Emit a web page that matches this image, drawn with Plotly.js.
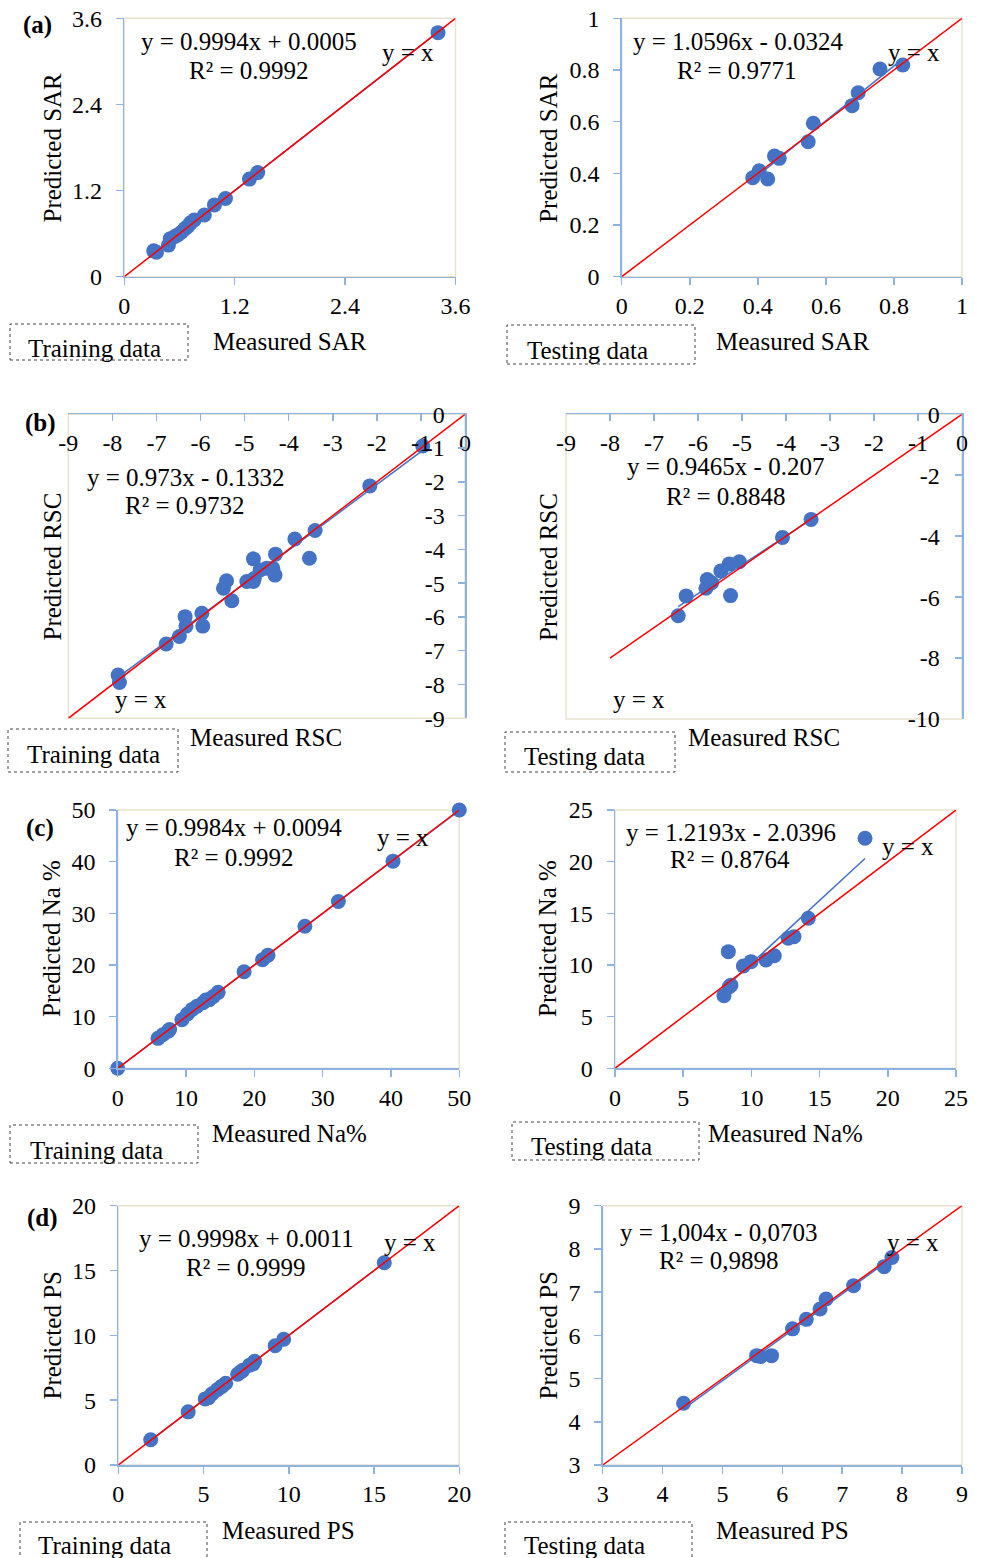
<!DOCTYPE html>
<html>
<head>
<meta charset="utf-8">
<script src="https://cdn.plot.ly/plotly-3.0.1.min.js"></script>
<style>html,body{margin:0;padding:0;background:#fff;}#chart{width:984px;height:1558px;}</style>
</head>
<body>
<div id="chart"></div>
<script>
// ---------------- DATA ----------------
const panelNames = ["(a)", "(b)", "(c)", "(d)"];
const setLabels = ["Training data", "Testing data"];
const measuredTitles = ["Measured SAR", "Measured RSC", "Measured Na%", "Measured PS"];
const predictedTitles = ["Predicted SAR", "Predicted RSC", "Predicted Na %", "Predicted PS"];

const sarTrainMeasured = [0.32, 0.35, 0.48, 0.50, 0.55, 0.58, 0.62, 0.66, 0.69, 0.72, 0.76, 0.87, 0.98, 1.10, 1.36, 1.45, 3.41];
const sarTrainPredicted = [0.36, 0.34, 0.44, 0.53, 0.56, 0.58, 0.62, 0.67, 0.70, 0.75, 0.79, 0.86, 1.00, 1.09, 1.36, 1.45, 3.40];
const sarTestMeasured = [0.385, 0.404, 0.429, 0.449, 0.463, 0.548, 0.563, 0.677, 0.695, 0.759, 0.826];
const sarTestPredicted = [0.383, 0.410, 0.378, 0.467, 0.458, 0.522, 0.594, 0.662, 0.712, 0.804, 0.819];

const rscTrainMeasured = [-7.87, -7.84, -6.78, -6.48, -6.35, -6.33, -5.97, -5.95, -5.48, -5.41, -5.29, -4.95, -4.80, -4.80, -4.78, -4.65, -4.50, -4.36, -4.31, -4.30, -3.86, -3.53, -3.40, -2.16, -0.96];
const rscTrainPredicted = [-7.72, -7.94, -6.80, -6.58, -5.99, -6.27, -5.89, -6.27, -5.15, -4.93, -5.52, -4.95, -4.95, -4.28, -4.86, -4.61, -4.56, -4.56, -4.76, -4.14, -3.69, -4.26, -3.44, -2.12, -0.94];
const rscTestMeasured = [-6.45, -6.27, -5.82, -5.79, -5.69, -5.48, -5.29, -5.26, -5.06, -4.08, -3.43];
const rscTestPredicted = [-6.61, -5.96, -5.71, -5.42, -5.53, -5.14, -4.91, -5.95, -4.84, -4.04, -3.45];

const naTrainMeasured = [0, 5.9, 6.6, 7.4, 7.6, 9.4, 10.2, 10.9, 11.6, 12.5, 12.9, 13.4, 14.0, 14.7, 18.5, 21.2, 22.0, 27.4, 32.3, 40.3, 50.0];
const naTrainPredicted = [0, 5.8, 6.5, 7.2, 7.5, 9.4, 10.5, 11.4, 12.0, 12.7, 13.2, 13.3, 13.9, 14.7, 18.7, 21.0, 21.9, 27.5, 32.3, 40.1, 50.0];
const naTestMeasured = [7.99, 8.31, 8.38, 8.50, 9.41, 9.97, 11.07, 11.68, 12.70, 13.12, 14.17, 18.33];
const naTestPredicted = [7.03, 11.29, 7.90, 8.05, 9.90, 10.32, 10.48, 10.90, 12.58, 12.74, 14.52, 22.27];

const psTrainMeasured = [1.9, 4.1, 5.1, 5.3, 5.5, 5.8, 6.0, 6.1, 6.3, 7.0, 7.2, 7.3, 7.7, 7.9, 8.0, 9.2, 9.7, 15.6];
const psTrainPredicted = [1.95, 4.1, 5.1, 5.2, 5.5, 5.8, 6.0, 6.1, 6.3, 7.0, 7.2, 7.3, 7.7, 7.8, 8.0, 9.2, 9.7, 15.6];
const psTestMeasured = [4.35, 5.57, 5.64, 5.82, 6.17, 6.40, 6.63, 6.73, 7.19, 7.70, 7.83];
const psTestPredicted = [4.43, 5.53, 5.51, 5.53, 6.15, 6.37, 6.61, 6.84, 7.15, 7.59, 7.80];

const trendSlope = [0.9994, 1.0596, 0.973, 0.9465, 0.9984, 1.2193, 0.9998, 1.004];
const trendIntercept = [0.0005, -0.0324, -0.1332, -0.207, 0.0094, -2.0396, 0.0011, -0.0703];
const equationLabels = ["y = 0.9994x + 0.0005", "y = 1.0596x - 0.0324", "y = 0.973x - 0.1332", "y = 0.9465x - 0.207",
                        "y = 0.9984x + 0.0094", "y = 1.2193x - 2.0396", "y = 0.9998x + 0.0011", "y = 1,004x - 0,0703"];
const r2Labels = ["R² = 0.9992", "R² = 0.9771", "R² = 0.9732", "R² = 0.8848",
                  "R² = 0.9992", "R² = 0.8764", "R² = 0.9999", "R² = 0,9898"];
const identityLabel = "y = x";

// identity (1:1) line extents per panel
const identityFrom = [0, 0, -9, -8, 0, 0, 0, 3];
const identityTo = [3.6, 1, 0, 0, 50, 25, 20, 9];

// tick values / labels
const sarTrainTicks = [0, 1.2, 2.4, 3.6];
const sarTestTicks = [0, 0.2, 0.4, 0.6, 0.8, 1];
const rscXTicks = [-9, -8, -7, -6, -5, -4, -3, -2, -1, 0];
const rscTrainYTicks = [-9, -8, -7, -6, -5, -4, -3, -2, -1, 0];
const rscTestYTicks = [-10, -8, -6, -4, -2, 0];
const naTrainTicks = [0, 10, 20, 30, 40, 50];
const naTestTicks = [0, 5, 10, 15, 20, 25];
const psTrainTicks = [0, 5, 10, 15, 20];
const psTestTicks = [3, 4, 5, 6, 7, 8, 9];

// ---------------- STYLE / LAYOUT ----------------
const W = 984, H = 1558;
const FONT = '"Liberation Serif", "Times New Roman", serif';
const FS = 24;     // tick labels
const FA = 25;     // annotation texts
const BLUE = '#4472C4';
const AXIS = '#8db3e2';
const FRAME = '#e8e2cf';
const px = x => x / W;
const py = y => 1 - y / H;

const panels = [
  {xs: sarTrainMeasured, ys: sarTrainPredicted, xt: sarTrainTicks, yt: sarTrainTicks, box: [124.3, 455.5, 18.3, 276.7], flip: false,
   eq: [249, 41.7], r2: [249, 70], idl: [407.5, 53], mt: [290, 342], pt: [52, 147.5], tag: [37, 25], dbox: [10, 188, 324, 360], dtxt: [94.5, 348], set: 0, grp: 0},
  {xs: sarTestMeasured, ys: sarTestPredicted, xt: sarTestTicks, yt: sarTestTicks, box: [621.7, 962, 18.3, 276.7], flip: false,
   eq: [737.5, 41.7], r2: [737, 70], idl: [914, 53], mt: [792.5, 342], pt: [548.3, 147.5], tag: null, dbox: [507, 695, 325, 364], dtxt: [587.5, 350], set: 1, grp: 0},
  {xs: rscTrainMeasured, ys: rscTrainPredicted, xt: rscXTicks, yt: rscTrainYTicks, box: [68.3, 465, 414.3, 718.3], flip: true, ystand: 15,
   eq: [185, 477], r2: [185, 505], idl: [141, 699], mt: [266, 738], pt: [52, 566.5], tag: [40.5, 423], dbox: [8, 178, 729, 772], dtxt: [93, 754], set: 0, grp: 1},
  {xs: rscTestMeasured, ys: rscTestPredicted, xt: rscXTicks, yt: rscTestYTicks, box: [566, 962, 414.3, 719], flip: true, ystand: 17,
   eq: [725.5, 467], r2: [726, 496], idl: [638.7, 699], mt: [763.7, 738], pt: [548, 567], tag: null, dbox: [505, 675, 732, 772], dtxt: [584, 757], set: 1, grp: 1},
  {xs: naTrainMeasured, ys: naTrainPredicted, xt: naTrainTicks, yt: naTrainTicks, box: [117.7, 459.3, 810, 1068.3], flip: false,
   eq: [234, 828], r2: [234, 857], idl: [403, 837], mt: [289, 1133], pt: [52, 939], tag: [40, 828], dbox: [10, 198, 1125, 1163], dtxt: [96, 1150], set: 0, grp: 2},
  {xs: naTestMeasured, ys: naTestPredicted, xt: naTestTicks, yt: naTestTicks, box: [615, 956, 810, 1068.3], flip: false,
   eq: [730.5, 832], r2: [730, 860], idl: [908, 847], mt: [785, 1133], pt: [548, 939], tag: null, dbox: [512, 699, 1122, 1160], dtxt: [591, 1146], set: 1, grp: 2},
  {xs: psTrainMeasured, ys: psTrainPredicted, xt: psTrainTicks, yt: psTrainTicks, box: [118.3, 459.3, 1205.7, 1465], flip: false,
   eq: [246, 1238], r2: [246, 1267], idl: [410, 1242], mt: [288, 1530], pt: [52, 1335.5], tag: [42.5, 1218], dbox: [20, 207, 1522, 1562], dtxt: [104.5, 1545], set: 0, grp: 3},
  {xs: psTestMeasured, ys: psTestPredicted, xt: psTestTicks, yt: psTestTicks, box: [602.7, 962, 1205.7, 1465], flip: false,
   eq: [718, 1232], r2: [719, 1260], idl: [913, 1242], mt: [782, 1530], pt: [548, 1335.5], tag: null, dbox: [505, 692, 1522, 1562], dtxt: [584, 1545], set: 1, grp: 3}
];

const traces = [];
const layout = {
  width: W, height: H, margin: {l: 0, r: 0, t: 0, b: 0},
  paper_bgcolor: '#ffffff', plot_bgcolor: '#ffffff',
  showlegend: false, font: {family: FONT, size: FS, color: '#000'},
  shapes: [], annotations: []
};

const ann = (text, x, y, extra) => Object.assign({
  text: text, x: px(x), y: py(y), xref: 'paper', yref: 'paper', showarrow: false,
  xanchor: 'center', yanchor: 'middle', font: {family: FONT, size: FA, color: '#000'}
}, extra || {});

panels.forEach((p, i) => {
  const n = i === 0 ? '' : String(i + 1);
  const xa = 'x' + n, ya = 'y' + n;
  const xr = [p.xt[0], p.xt[p.xt.length - 1]];
  const yr = [p.yt[0], p.yt[p.yt.length - 1]];
  const common = {
    showgrid: false, zeroline: false, showline: true, linecolor: AXIS, linewidth: 1.5,
    ticklen: 7, tickwidth: 1.5, tickcolor: AXIS, fixedrange: true,
    tickfont: {family: FONT, size: FS, color: '#000'}
  };
  layout['xaxis' + n] = Object.assign({}, common, {
    domain: [px(p.box[0]), px(p.box[1])], anchor: ya, range: xr,
    tickmode: 'array', tickvals: p.xt, ticktext: p.xt.map(v => String(v)),
    side: p.flip ? 'top' : 'bottom', ticks: p.flip ? 'inside' : 'outside',
    ticklabelposition: p.flip ? 'inside' : 'outside', ticklabeloverflow: 'allow',
    ticklabelstandoff: p.flip ? 15 : 0
  });
  layout['yaxis' + n] = Object.assign({}, common, {
    domain: [py(p.box[3]), py(p.box[2])], anchor: xa, range: yr,
    tickmode: 'array', tickvals: p.yt, ticktext: p.yt.map(v => String(v)),
    side: p.flip ? 'right' : 'left', ticks: p.flip ? 'inside' : 'outside',
    ticklabelposition: p.flip ? 'inside' : 'outside', ticklabeloverflow: 'allow',
    ticklabelstandoff: p.flip ? p.ystand : 9
  });
  // plot-area frame
  layout.shapes.push({type: 'rect', xref: xa + ' domain', yref: ya + ' domain', x0: 0, x1: 1, y0: 0, y1: 1,
    line: {color: FRAME, width: 1.5}, layer: 'below'});
  // data points
  traces.push({type: 'scatter', mode: 'markers', x: p.xs, y: p.ys, xaxis: xa, yaxis: ya,
    marker: {color: BLUE, size: 15, line: {width: 0}}, cliponaxis: false, hoverinfo: 'x+y'});
  // linear trend line
  const xmin = Math.min.apply(null, p.xs), xmax = Math.max.apply(null, p.xs);
  traces.push({type: 'scatter', mode: 'lines', x: [xmin, xmax],
    y: [trendSlope[i] * xmin + trendIntercept[i], trendSlope[i] * xmax + trendIntercept[i]],
    xaxis: xa, yaxis: ya, line: {color: BLUE, width: 1.5}, hoverinfo: 'skip'});
  // y = x line
  traces.push({type: 'scatter', mode: 'lines', x: [identityFrom[i], identityTo[i]], y: [identityFrom[i], identityTo[i]],
    xaxis: xa, yaxis: ya, line: {color: '#ff0000', width: 1.5}, hoverinfo: 'skip', cliponaxis: false});
  // texts
  layout.annotations.push(ann(equationLabels[i], p.eq[0], p.eq[1]));
  layout.annotations.push(ann(r2Labels[i], p.r2[0], p.r2[1]));
  layout.annotations.push(ann(identityLabel, p.idl[0], p.idl[1]));
  layout.annotations.push(ann(measuredTitles[p.grp], p.mt[0], p.mt[1]));
  layout.annotations.push(ann(predictedTitles[p.grp], p.pt[0], p.pt[1], {textangle: -90}));
  if (p.tag) layout.annotations.push(ann('<b>' + panelNames[p.grp] + '</b>', p.tag[0], p.tag[1]));
  layout.annotations.push(ann(setLabels[p.set], p.dtxt[0], p.dtxt[1]));
  layout.shapes.push({type: 'rect', xref: 'paper', yref: 'paper', x0: px(p.dbox[0]), x1: px(p.dbox[1]),
    y0: py(p.dbox[3]), y1: py(p.dbox[2]), line: {color: '#444', width: 1, dash: 'dot'}, layer: 'above'});
});

Plotly.newPlot('chart', traces, layout, {displayModeBar: false, staticPlot: true});
</script>
</body>
</html>
